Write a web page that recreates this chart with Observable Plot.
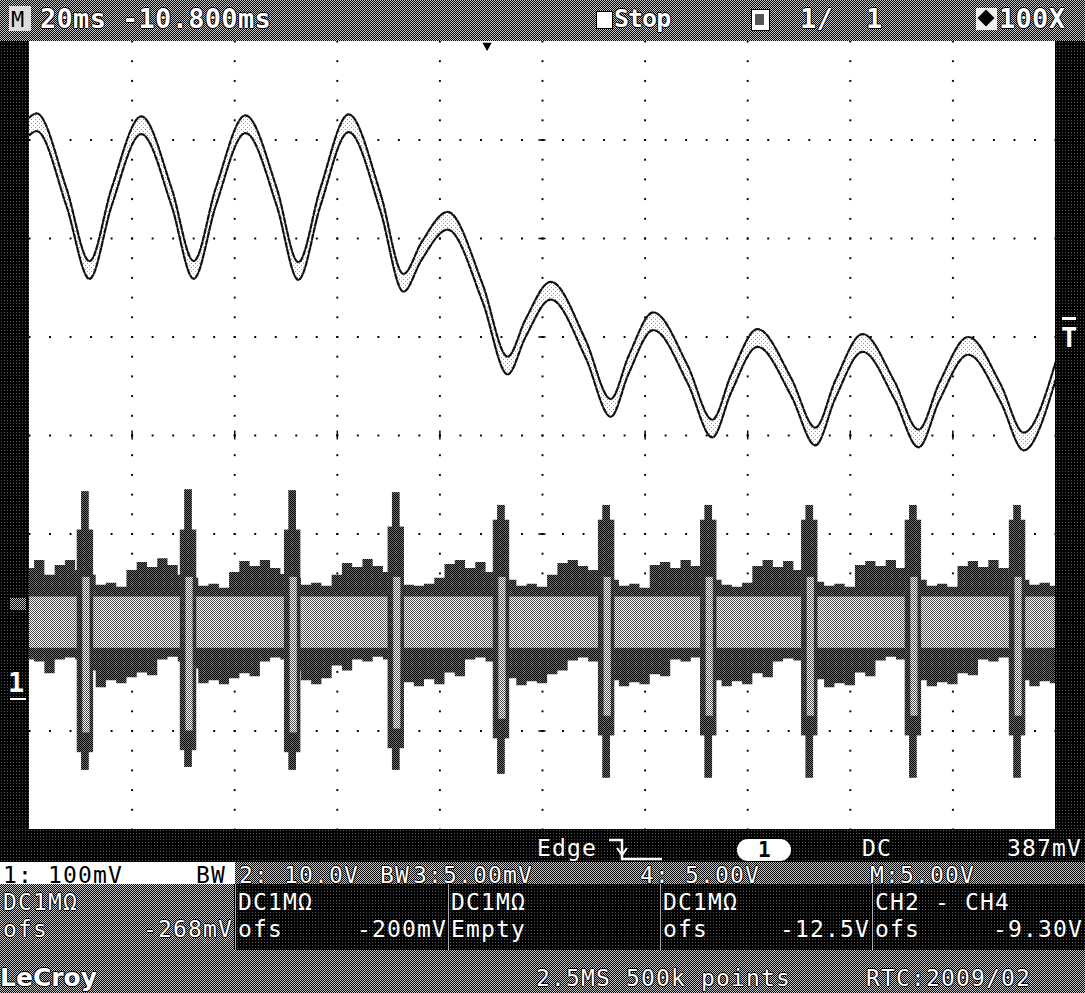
<!DOCTYPE html>
<html>
<head>
<meta charset="utf-8">
<script src="https://cdn.jsdelivr.net/npm/d3@7"></script>
<script src="https://cdn.jsdelivr.net/npm/@observablehq/plot@0.6"></script>
<style>
  html, body { margin: 0; padding: 0; background: #000; }
  #screen { position: relative; width: 1085px; height: 993px; overflow: hidden; background: #000;
    font-family: "DejaVu Sans Mono", "Liberation Mono", monospace; }
  .dotbg { background-color: #000; background-image: radial-gradient(circle, #5a5a5a 0.7px, transparent 0.9px); background-size: 3px 3px; }
  .checker { background-color: #777; background-image: repeating-conic-gradient(#000 0% 25%, #c4c4c4 0% 50%); background-size: 2px 2px; }
  .box { position: absolute; }
  .tx { position: absolute; white-space: pre; font-size: 27px; line-height: 27px; letter-spacing: 0.3px; color: #fff; font-weight: bold; }
  .bt { position: absolute; white-space: pre; font-size: 23px; line-height: 22px; letter-spacing: 1.15px; color: #fff; }
  .ol { text-shadow: -1px 0 #000, 1px 0 #000, 0 -1px #000, 0 1px #000; }
  .dk { color: #000; }
  #plot { position: absolute; left: 29px; top: 41px; width: 1026px; height: 788px; }
</style>
</head>
<body>
<div id="screen">
  <!-- side strips -->
  <div class="box dotbg" style="left:0;top:41px;width:29px;height:788px"></div>
  <div class="box dotbg" style="left:1055px;top:41px;width:30px;height:788px"></div>

  <!-- top status bar -->
  <div class="box checker" style="left:0;top:0;width:1085px;height:41px"></div>
  <div class="box" style="left:9px;top:6px;width:22px;height:25px;background:#ddd"></div>
  <div class="tx dk" style="left:11px;top:6px;font-size:22px;font-weight:normal">M</div>
  <div class="tx ol" style="left:40px;top:5px">20ms</div>
  <div class="tx ol" style="left:122px;top:5px">-10.800ms</div>
  <div class="box" style="left:596px;top:11px;width:15px;height:16px;background:#fff;border:1px solid #000"></div>
  <div class="tx ol" style="left:614px;top:5px;font-size:25px;letter-spacing:-1px">Stop</div>
  <div class="box" style="left:751px;top:9px;width:17px;height:20px;background:#fff;border:1px solid #000"></div>
  <div class="box" style="left:755px;top:14px;width:9px;height:11px;background:#555"></div>
  <div class="tx ol" style="left:800px;top:5px">1/</div>
  <div class="tx ol" style="left:866px;top:5px">1</div>
  <div class="box" style="left:976px;top:8px;width:21px;height:22px;background:#eee"></div>
  <div class="box" style="left:980px;top:12px;width:12px;height:12px;background:#000;transform:rotate(45deg)"></div>
  <div class="tx ol" style="left:999px;top:5px">100X</div>

  <!-- plot -->
  <div id="plot"></div>

  <!-- channel markers -->
  <div id="gndMark" class="tx" style="left:8px;font-size:27px">1</div>
  <div id="gndLine" class="box" style="left:10px;width:16px;height:2px;background:#fff"></div>
  <div id="mathMark" class="box checker" style="left:10px;width:16px;height:12px"></div>
  <div id="trigLine" class="box" style="left:1062px;width:14px;height:3px;background:#fff"></div>
  <div id="trigMark" class="tx" style="left:1061px;font-size:27px">T</div>

  <!-- bottom info panel -->
  <div class="box dotbg" style="left:0;top:829px;width:1085px;height:33px"></div>
  <div class="bt" style="left:537px;top:837px">Edge</div>
  <svg class="box" style="left:606px;top:834px" width="62" height="28">
    <path d="M3,6 H16 V25 H56" fill="none" stroke="#fff" stroke-width="2.5"/>
    <path d="M11,14 L16,21 L21,14" fill="none" stroke="#fff" stroke-width="2"/>
  </svg>
  <div class="box" style="left:737px;top:839px;width:54px;height:22px;border-radius:11px;background:#fff"></div>
  <div class="bt dk" style="left:758px;top:839px;font-weight:bold;font-size:21px;letter-spacing:0">1</div>
  <div class="bt" style="left:862px;top:837px">DC</div>
  <div class="bt" style="right:3px;top:837px">387mV</div>

  <div class="box" style="left:0;top:862px;width:235px;height:22px;background:#fff"></div>
  <div class="bt dk" style="left:3px;top:864px">1: 100mV</div>
  <div class="bt dk" style="left:196px;top:864px">BW</div>
  <div class="box checker" style="left:235px;top:862px;width:850px;height:22px"></div>
  <div class="bt ol" style="left:239px;top:864px">2: 10.0V</div>
  <div class="bt ol" style="left:380px;top:864px">BW</div>
  <div class="bt ol" style="left:413px;top:864px">3:5.00mV</div>
  <div class="bt ol" style="left:640px;top:864px">4: 5.00V</div>
  <div class="bt ol" style="left:870px;top:864px">M:5.00V</div>

  <div class="box checker" style="left:0;top:884px;width:234px;height:66px"></div>
  <div class="box dotbg" style="left:236px;top:884px;width:211px;height:66px"></div>
  <div class="box dotbg" style="left:449px;top:884px;width:210px;height:66px"></div>
  <div class="box dotbg" style="left:661px;top:884px;width:210px;height:66px"></div>
  <div class="box dotbg" style="left:873px;top:884px;width:212px;height:66px"></div>
  <div class="box" style="left:235px;top:884px;width:1px;height:66px;background:#aaa"></div>
  <div class="box" style="left:448px;top:884px;width:1px;height:66px;background:#aaa"></div>
  <div class="box" style="left:660px;top:884px;width:1px;height:66px;background:#aaa"></div>
  <div class="box" style="left:872px;top:884px;width:1px;height:66px;background:#aaa"></div>

  <div class="bt ol" style="left:3px;top:891px">DC1MΩ</div>
  <div class="bt ol" style="left:3px;top:918px">ofs</div>
  <div class="bt ol" style="right:852px;top:918px">-268mV</div>
  <div class="bt" style="left:238px;top:891px">DC1MΩ</div>
  <div class="bt" style="left:238px;top:918px">ofs</div>
  <div class="bt" style="right:638px;top:918px">-200mV</div>
  <div class="bt" style="left:451px;top:891px">DC1MΩ</div>
  <div class="bt" style="left:451px;top:918px">Empty</div>
  <div class="bt" style="left:663px;top:891px">DC1MΩ</div>
  <div class="bt" style="left:663px;top:918px">ofs</div>
  <div class="bt" style="right:215px;top:918px">-12.5V</div>
  <div class="bt" style="left:875px;top:891px">CH2 - CH4</div>
  <div class="bt" style="left:875px;top:918px">ofs</div>
  <div class="bt" style="right:2px;top:918px">-9.30V</div>

  <div class="box checker" style="left:0;top:950px;width:1085px;height:43px"></div>
  <div class="bt ol" style="left:0px;top:967px;font-family:'Liberation Sans Narrow','DejaVu Sans',sans-serif;font-weight:bold;font-size:25px;letter-spacing:0">LeCroy</div>
  <div class="bt ol" style="left:536px;top:967px">2.5MS 500k points</div>
  <div class="bt ol" style="left:866px;top:967px">RTC:2009/02</div>
</div>

<script>
// ---------------- data ----------------
const timePerDivMs = 20;      // 20 ms/div
const delayMs = -10.8;        // trigger delay
const divisionsX = 10;
const divisionsY = 8;

// Math trace (CH2 - CH4), centre of the noisy band, in screen divisions
const mathT = [0, 1.4, 7.2, 11.7, 16.0, 21.8, 27.7, 32.0, 36.3, 42.1, 48.2, 52.4, 56.7, 62.2,
  68.4, 72.9, 76.4, 81.5, 88.3, 93.2, 96.7, 101.6, 108.4, 113.3, 116.8, 121.6, 128.3, 133.1,
  136.8, 141.9, 148.5, 153.2, 157.1, 162.4, 168.6, 173.3, 177.4, 183.0, 189.3, 193.8, 200];
const mathV = [3.14, 3.18, 2.42, 1.68, 2.42, 3.15, 2.42, 1.68, 2.42, 3.16, 2.42, 1.67, 2.42, 3.17,
  2.37, 1.55, 1.87, 2.18, 1.45, 0.71, 1.09, 1.47, 0.88, 0.28, 0.72, 1.16, 0.62, 0.07,
  0.53, 0.99, 0.49, -0.01, 0.47, 0.94, 0.46, -0.03, 0.45, 0.91, 0.43, -0.06, 0.65];
const mathRipple = 0.09;      // half width of the band (div)

// CH1 (mV), min/max envelope, one sample every 2 ms
const ch1StepMs = 2;
const ch1Max = [133,141,126,136,141,131,126,116,118,114, 131,139,134,143,136,126,123,115,117,113,
  129,140,135,141,133,127,123,116,118,115, 126,138,134,142,135,129,123,116,115,117,
  123,137,141,133,139,129,126,121,115,117, 114,126,138,141,135,131,126,121,115,117,
  113,136,139,133,141,135,126,121,116,114, 118,135,141,134,140,131,126,119,115,117,
  114,136,140,135,141,133,126,121,115,117, 114,135,140,134,141,133,126,121,116,118, 115];
const ch1Min = [40,38,26,40,42,40,29,12,19,16, 22,27,24,40,43,38,31,16,19,15,
  21,26,23,38,42,40,29,19,15,21, 34,29,40,38,43,40,31,17,13,20,
  15,27,23,40,42,38,34,21,14,18, 16,25,29,39,42,38,34,19,13,17,
  15,25,23,40,38,42,34,19,13,18, 15,26,22,38,41,39,34,20,12,16,
  14,27,23,39,43,40,34,19,13,17, 15,26,24,40,38,42,36,19,13,18, 16];
const ch1CoreMax = 104;       // dense part of the noise band (mV)
const ch1CoreMin = 52;

// CH1 switching spikes
const spikeT = [10.9, 31.0, 51.3, 71.5, 92.0, 112.5, 132.4, 152.1, 172.3, 192.6];
const spikeMax = [211, 213, 212, 210, 197, 197, 197, 197, 197, 197];
const spikeMin = [-72, -69, -72, -72, -76, -80, -80, -80, -80, -80];
const spikeBodyMax = [172, 172, 172, 175, 182, 182, 182, 182, 182, 182];
const spikeBodyMin = [-54, -52, -54, -50, -40, -37, -37, -37, -37, -37];

const ch1mVPerDiv = 100;
const ch1OffsetmV = -268;
const mathOffsetDiv = -9.30 / 5.0;
const trigLevelmV = 387;

// ---------------- build ----------------
const toDiv = v => (v + ch1OffsetmV) / ch1mVPerDiv;
const xMax = timePerDivMs * divisionsX;
const yHalf = divisionsY / 2;

const math = mathT.map((t, i) => ({t, v: mathV[i]}));
const ch1 = ch1Max.map((hi, i) => ({t: i * ch1StepMs, hi, lo: ch1Min[i]}));
const spikes = spikeT.map((t, i) => ({t, hi: spikeMax[i], lo: spikeMin[i], bhi: spikeBodyMax[i], blo: spikeBodyMin[i]}));

const gridDots = [];
for (let k = 1; k < divisionsX; k++)
  for (let j = 0; j <= divisionsY * 5; j++) gridDots.push({x: k * timePerDivMs, y: -yHalf + j / 5});
for (let k = -yHalf + 1; k < yHalf; k++)
  for (let j = 0; j <= divisionsX * 5; j++) gridDots.push({x: j * timePerDivMs / 5, y: k});
const centreTicksX = d3.range(1, divisionsX).filter(k => k !== divisionsX / 2).map(k => ({x: k * timePerDivMs}));
const centreTicksY = d3.range(-yHalf + 1, yHalf).filter(k => k !== 0).map(k => ({y: k}));

const plot = Plot.plot({
  width: 1026, height: 788, margin: 0,
  x: {domain: [0, xMax], axis: null},
  y: {domain: [-yHalf, yHalf], axis: null},
  clip: true,
  style: {background: "#fff", overflow: "hidden"},
  marks: [
    Plot.dot(gridDots, {x: "x", y: "y", symbol: "square", r: 1.1, fill: "#000"}),
    Plot.ruleX(centreTicksX, {x: "x", y1: () => -0.045, y2: () => 0.045, stroke: "#000", strokeWidth: 1.5}),
    Plot.ruleY(centreTicksY, {y: "y", x1: () => xMax / 2 - 0.7, x2: () => xMax / 2 + 0.7, stroke: "#000", strokeWidth: 1.5}),
    // CH1 envelope
    Plot.areaY(ch1, {x: "t", y1: d => toDiv(d.lo), y2: d => toDiv(d.hi), curve: "step", fill: "url(#hDark)"}),
    Plot.areaY(ch1, {x: "t", y1: () => toDiv(ch1CoreMin), y2: () => toDiv(ch1CoreMax), curve: "step", fill: "url(#hGray)"}),
    // spikes: narrow dark needle, dark body, light core
    Plot.rect(spikes, {x1: d => d.t - 0.75, x2: d => d.t + 0.75, y1: d => toDiv(d.lo), y2: d => toDiv(d.hi), fill: "url(#hDark)"}),
    Plot.rect(spikes, {x1: d => d.t - 1.6, x2: d => d.t + 1.6, y1: d => toDiv(d.blo), y2: d => toDiv(d.bhi), fill: "url(#hDark)"}),
    Plot.rect(spikes, {x1: d => d.t - 0.5, x2: d => d.t + 0.9, y1: d => toDiv(d.blo + 20), y2: () => toDiv(ch1CoreMax + 20), fill: "url(#hGray)"}),
    // Math band
    Plot.areaY(math, {x: "t", y1: d => d.v - mathRipple, y2: d => d.v + mathRipple, curve: "monotone-x", fill: "url(#hLight)"}),
    Plot.line(math, {x: "t", y: d => d.v + mathRipple, curve: "monotone-x", stroke: "#111", strokeWidth: 2.2, strokeDasharray: "5 2"}),
    Plot.line(math, {x: "t", y: d => d.v - mathRipple, curve: "monotone-x", stroke: "#111", strokeWidth: 2.2, strokeDasharray: "5 2"}),
    // trigger time marker
    Plot.dot([{t: xMax / 2 + delayMs}], {x: "t", y: () => yHalf, dy: 4, symbol: "triangle", rotate: 180, r: 3.5, fill: "#000"})
  ]
});

const defs = document.createElementNS("http://www.w3.org/2000/svg", "defs");
defs.innerHTML = `
<pattern id="hDark" width="2" height="2" patternUnits="userSpaceOnUse">
  <rect width="2" height="2" fill="#707070"/><rect width="1" height="1" fill="#000"/><rect x="1" y="1" width="1" height="1" fill="#000"/>
</pattern>
<pattern id="hGray" width="2" height="2" patternUnits="userSpaceOnUse">
  <rect width="2" height="2" fill="#fff"/><rect width="1" height="1" fill="#4a4a4a"/><rect x="1" y="1" width="1" height="1" fill="#4a4a4a"/>
</pattern>
<pattern id="hLight" width="4" height="4" patternUnits="userSpaceOnUse">
  <rect width="4" height="4" fill="#fff"/><rect width="1" height="1" fill="#999"/><rect x="2" y="2" width="1" height="1" fill="#999"/>
</pattern>`;
plot.insertBefore(defs, plot.firstChild);
document.getElementById("plot").appendChild(plot);

// side markers placed through the y scale
const ys = plot.scale("y");
const top0 = 41;
const gY = top0 + ys.apply(toDiv(0));
document.getElementById("gndLine").style.top = (gY - 1) + "px";
document.getElementById("gndMark").style.top = (gY - 30) + "px";
const mY = top0 + ys.apply(mathOffsetDiv);
document.getElementById("mathMark").style.top = (mY - 20) + "px";
const tY = top0 + ys.apply(toDiv(trigLevelmV));
document.getElementById("trigLine").style.top = (tY - 1) + "px";
document.getElementById("trigMark").style.top = (tY + 6) + "px";
</script>
</body>
</html>
